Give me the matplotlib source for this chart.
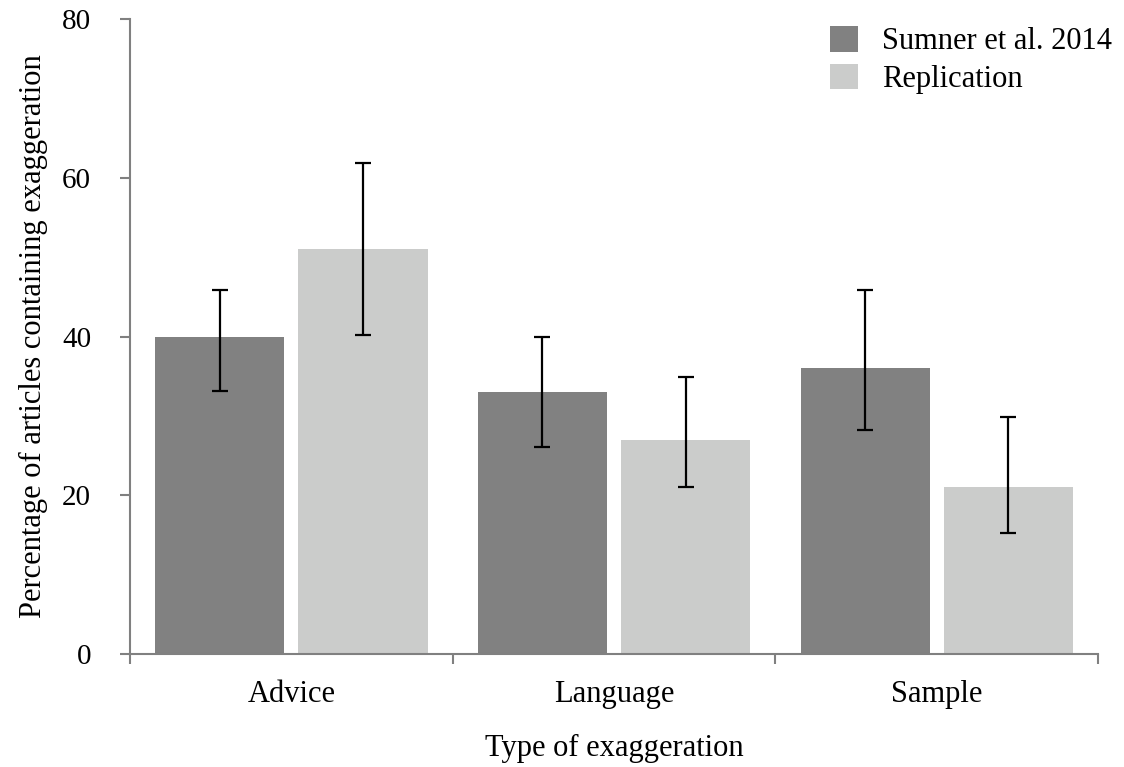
import numpy as np
import matplotlib
matplotlib.use('Agg')
import matplotlib.pyplot as plt

plt.rcParams['font.family'] = ['Liberation Serif', 'DejaVu Serif']

# Data
categories = ['Advice', 'Language', 'Sample']
sumner = [40, 33, 36]
sumner_lo = [33.1, 26.1, 28.2]
sumner_hi = [45.8, 39.9, 45.8]
replication = [51, 27, 21]
replication_lo = [40.2, 21.1, 15.2]
replication_hi = [61.8, 34.9, 29.8]

x = np.arange(len(categories))
width = 0.40
offset = 0.222

fig = plt.figure(figsize=(11.24, 7.67), dpi=100)
ax = fig.add_axes([0.1157, 0.1473, 0.8612, 0.8279])

err_s = [np.array(sumner) - np.array(sumner_lo), np.array(sumner_hi) - np.array(sumner)]
err_r = [np.array(replication) - np.array(replication_lo), np.array(replication_hi) - np.array(replication)]

ekw = dict(ecolor='black', elinewidth=1.6, capsize=5.8, capthick=1.6)
ax.bar(x - offset, sumner, width, color='#818181', label='Sumner et al. 2014',
       yerr=err_s, error_kw=ekw, zorder=2)
ax.bar(x + offset, replication, width, color='#cbcccb', label='Replication',
       yerr=err_r, error_kw=ekw, zorder=2)

ax.set_xlim(-0.5, 2.5)
ax.set_ylim(0, 80)
ax.set_yticks([0, 20, 40, 60, 80])

# category labels centered, tick marks at group boundaries
ax.set_xticks([-0.5, 0.5, 1.5, 2.5])
ax.set_xticklabels([])
ax.set_xticks(x, minor=True)
ax.set_xticklabels(categories, minor=True)
ax.tick_params(axis='x', which='minor', length=0, pad=19, labelsize=22)
ax.tick_params(axis='x', which='major', length=7, width=1.5, color='#808080', direction='out')
ax.tick_params(axis='y', length=7, width=1.5, color='#808080', labelsize=21, pad=21)

for side in ['top', 'right']:
    ax.spines[side].set_visible(False)
for side in ['left', 'bottom']:
    ax.spines[side].set_color('#808080')
    ax.spines[side].set_linewidth(1.5)

ax.set_xlabel('Type of exaggeration', fontsize=22, labelpad=18)
ax.set_ylabel('Percentage of articles containing exaggeration', fontsize=22, labelpad=10)

ax.legend(loc='upper right', bbox_to_anchor=(1.043, 1.032), frameon=False, fontsize=22,
          handlelength=0.9, handleheight=0.9, handletextpad=0.8, labelspacing=0.25)

fig.savefig('out.png', dpi=100)
